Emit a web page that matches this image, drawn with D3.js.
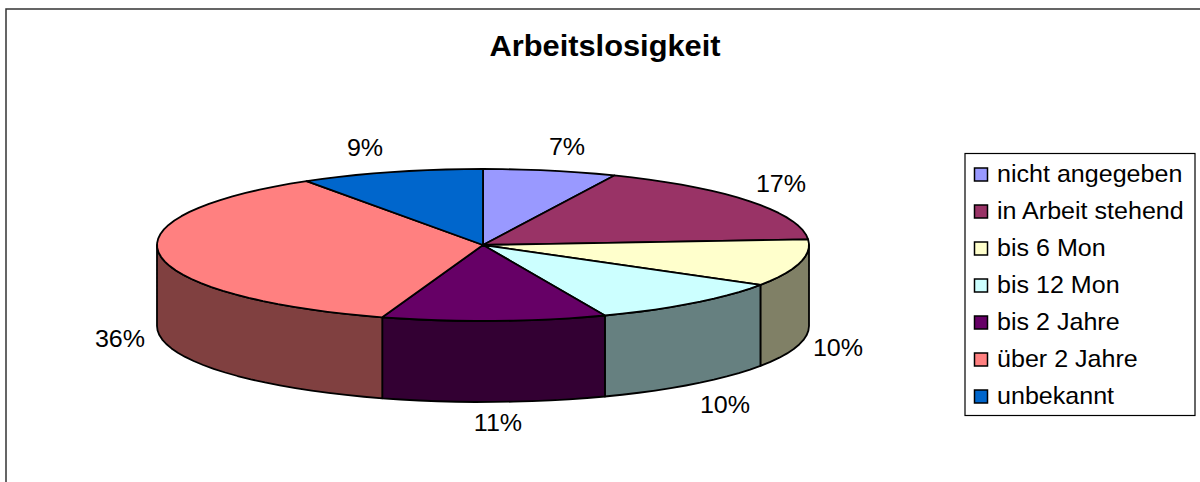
<!DOCTYPE html>
<html>
<head>
<meta charset="utf-8">
<script src="https://cdnjs.cloudflare.com/ajax/libs/d3/7.8.5/d3.min.js"></script>
<style>
  html, body { margin: 0; padding: 0; background: #fff; overflow: hidden; }
  text { font-family: "Liberation Sans", Arial, sans-serif; fill: #000; }
</style>
</head>
<body>
<svg id="chart"></svg>
<script>
const categories = ["nicht angegeben", "in Arbeit stehend", "bis 6 Mon", "bis 12 Mon", "bis 2 Jahre", "über 2 Jahre", "unbekannt"];
const values = [6.6, 17.2, 10, 10.1, 11.1, 35.9, 9.1];
const topColors = ["#9999ff", "#993366", "#ffffcc", "#ccffff", "#660066", "#ff8080", "#0066cc"];
const sideColors = ["#4d4d80", "#4d1a33", "#808066", "#668080", "#330033", "#804040", "#003366"];
const labelPositions = [[567, 147], [781, 184], [838, 348], [725, 405], [498, 423], [120, 339], [365, 148]];

const width = 1200, height = 482;
const pie3d = { cx: 483, cy: 245, rx: 326, ry: 76, depth: 81 };
const stretch = 1.045; // the text in the picture is stretched sideways a little

const svg = d3.select("#chart").attr("width", width).attr("height", height);

// outer frame runs off the bottom and right of the picture
svg.append("rect")
  .attr("x", 6).attr("y", 9)
  .attr("width", 1300).attr("height", 600)
  .attr("fill", "#fff").attr("stroke", "#333").attr("stroke-width", 1.5);

svg.append("text")
  .attr("transform", `translate(605,56) scale(${stretch},1)`)
  .attr("text-anchor", "middle")
  .attr("font-size", 29.5).attr("font-weight", "bold")
  .text("Arbeitslosigkeit");

const arcs = d3.pie().sort(null).value(d => d)(values);

// angle is clockwise from the top of the ellipse
function rimPoint(a, dy = 0) {
  return [pie3d.cx + pie3d.rx * Math.sin(a), pie3d.cy - pie3d.ry * Math.cos(a) + dy];
}

function rimPoints(a0, a1, dy = 0) {
  const n = Math.max(2, Math.ceil((a1 - a0) * 16));
  return d3.range(n + 1).map(i => rimPoint(a0 + (a1 - a0) * i / n, dy));
}

const line = d3.line();
const pieG = svg.append("g").attr("stroke", "#000").attr("stroke-width", 1.8).attr("stroke-linejoin", "round");

// side walls, only the front half (PI/2 to 3PI/2) can be seen
arcs.forEach((d, i) => {
  const a0 = Math.max(d.startAngle, Math.PI / 2);
  const a1 = Math.min(d.endAngle, Math.PI * 3 / 2);
  if (a1 <= a0) return;
  const top = rimPoints(a0, a1);
  const bottom = rimPoints(a0, a1, pie3d.depth).reverse();
  pieG.append("path")
    .attr("d", line(top.concat(bottom)) + "Z")
    .attr("fill", sideColors[i]);
});

// top faces
arcs.forEach((d, i) => {
  const pts = [[pie3d.cx, pie3d.cy]].concat(rimPoints(d.startAngle, d.endAngle));
  pieG.append("path")
    .attr("d", line(pts) + "Z")
    .attr("fill", topColors[i]);
});

svg.append("g").selectAll("text")
  .data(values)
  .join("text")
  .attr("transform", (d, i) => `translate(${labelPositions[i][0]},${labelPositions[i][1]}) scale(${stretch},1)`)
  .attr("text-anchor", "middle")
  .attr("dominant-baseline", "central")
  .attr("font-size", 24)
  .text(d => Math.round(d) + "%");

// legend
const legend = svg.append("g");
legend.append("rect")
  .attr("x", 965).attr("y", 153.5)
  .attr("width", 230).attr("height", 262)
  .attr("fill", "#fff").attr("stroke", "#000").attr("stroke-width", 1.2);

const legendY = d3.scalePoint().domain(categories).range([174, 396]);

const rows = legend.selectAll("g").data(categories).join("g")
  .attr("transform", d => `translate(0,${legendY(d)})`);

rows.append("rect")
  .attr("x", 974.5).attr("y", -6)
  .attr("width", 13).attr("height", 13)
  .attr("fill", (d, i) => topColors[i])
  .attr("stroke", "#000").attr("stroke-width", 1.5);

rows.append("text")
  .attr("transform", `translate(997,0) scale(${stretch},1)`)
  .attr("dominant-baseline", "central")
  .attr("font-size", 24)
  .text(d => d);
</script>
</body>
</html>
